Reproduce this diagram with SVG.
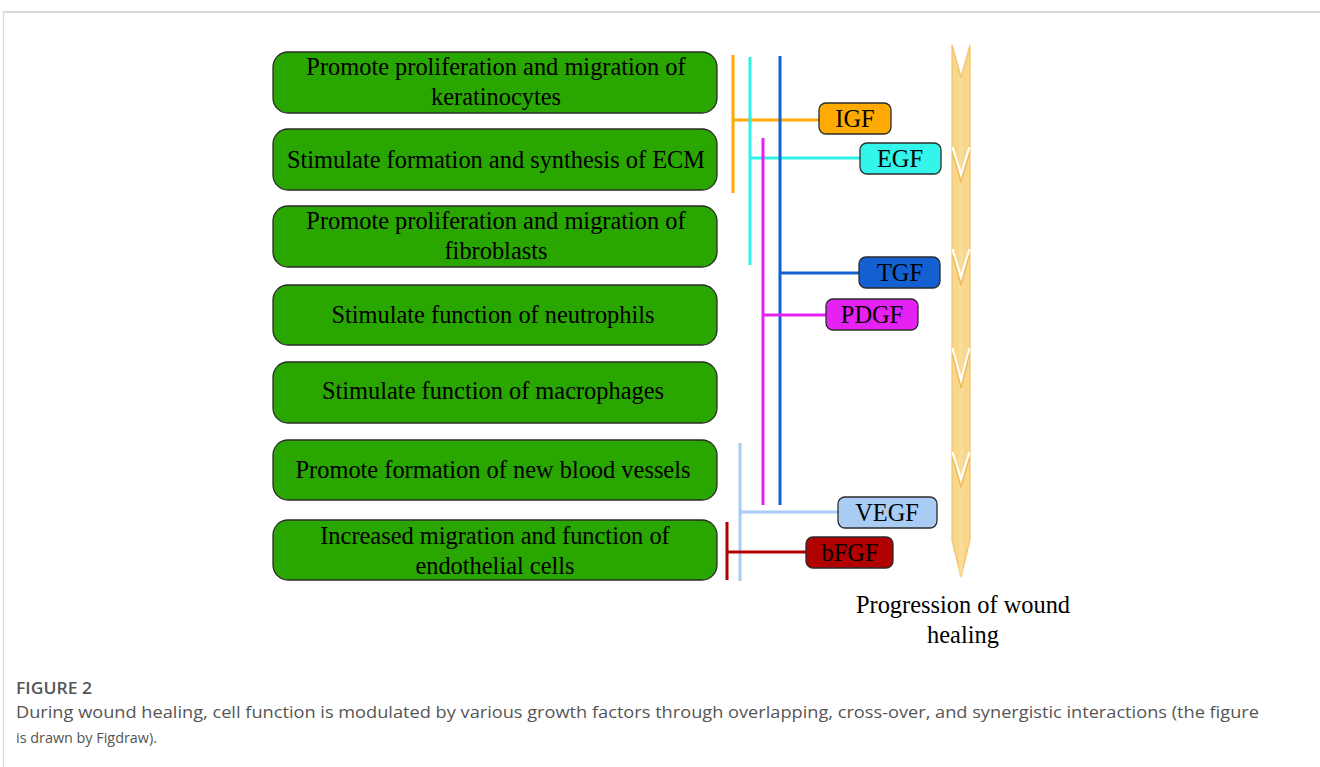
<svg xmlns="http://www.w3.org/2000/svg" width="1320" height="767" viewBox="0 0 1320 767">
<style>
.box{fill:#29a600;stroke:#2b2b2b;stroke-width:1.3}
.bt{font-family:"Liberation Serif",serif;font-size:24.4px;fill:#000;text-anchor:middle}
.gf{stroke:#2b2b2b;stroke-width:1.3}
.gt{font-family:"Liberation Serif",serif;font-size:24.4px;fill:#000;text-anchor:middle}
.ln{stroke-width:3;fill:none}
.cap{font-family:"Open Sans",sans-serif;fill:#555}
</style>
<rect width="1320" height="767" fill="#fff"/>
<line x1="3" y1="12" x2="1320" y2="12" stroke="#d9d9d9" stroke-width="2"/>
<line x1="3.5" y1="12" x2="3.5" y2="767" stroke="#d9d9d9" stroke-width="1.2"/>

<g id="n1"><rect class="box" x="273" y="52" width="444" height="61" rx="15"/><text class="bt" x="496" y="75">Promote proliferation and migration of</text><text class="bt" x="496" y="105">keratinocytes</text></g>
<g id="n2"><rect class="box" x="273" y="129" width="444" height="61" rx="15"/><text class="bt" x="496" y="168">Stimulate formation and synthesis of ECM</text></g>
<g id="n3"><rect class="box" x="273" y="206" width="444" height="61" rx="15"/><text class="bt" x="496" y="229">Promote proliferation and migration of</text><text class="bt" x="496" y="259">fibroblasts</text></g>
<g id="n4"><rect class="box" x="273" y="285" width="444" height="60" rx="15"/><text class="bt" x="493" y="323">Stimulate function of neutrophils</text></g>
<g id="n5"><rect class="box" x="273" y="362" width="444" height="61" rx="15"/><text class="bt" x="493" y="399">Stimulate function of macrophages</text></g>
<g id="n6"><rect class="box" x="273" y="440" width="444" height="60" rx="15"/><text class="bt" x="493" y="478">Promote formation of new blood vessels</text></g>
<g id="n7"><rect class="box" x="273" y="520" width="444" height="60" rx="15"/><text class="bt" x="495" y="544">Increased migration and function of</text><text class="bt" x="495" y="574">endothelial cells</text></g>

<g id="connectors">
<path class="ln" stroke="#ffaa00" d="M733 55V193M733 120H819"/>
<path class="ln" stroke="#2ef2e6" d="M750 57V265M750 158H860"/>
<path class="ln" stroke="#1560d0" d="M780 56V505M780 273H859"/>
<path class="ln" stroke="#e622f2" d="M763 138V505M763 315H826"/>
<path class="ln" stroke="#a9ccf5" d="M740 443V581M740 512H838"/>
<path class="ln" stroke="#b00000" d="M727 522V580M727 552H806"/>
</g>

<g id="IGF"><rect class="gf" x="819" y="103" width="72" height="31" rx="7" fill="#ffaa00"/><text class="gt" x="855" y="127">IGF</text></g>
<g id="EGF"><rect class="gf" x="860" y="143" width="81" height="31" rx="7" fill="#33f5e9"/><text class="gt" x="900" y="167">EGF</text></g>
<g id="TGF"><rect class="gf" x="859" y="257" width="81" height="31" rx="7" fill="#1560d0"/><text class="gt" x="900" y="281">TGF</text></g>
<g id="PDGF"><rect class="gf" x="826" y="299" width="92" height="31" rx="7" fill="#e622f2"/><text class="gt" x="872" y="323">PDGF</text></g>
<g id="VEGF"><rect class="gf" x="838" y="497" width="99" height="31" rx="7" fill="#a9ccf5"/><text class="gt" x="887" y="521">VEGF</text></g>
<g id="bFGF"><rect class="gf" x="806" y="537" width="87" height="31" rx="7" fill="#b00000"/><text class="gt" x="850" y="561">bFGF</text></g>

<g id="progression">
<polygon points="952,45 961,77 970,45 970,540 961,577 952,540" fill="#f8d68a" stroke="#f3c26a" stroke-width="1.2"/>
<line x1="961" y1="78" x2="961" y2="576" stroke="#fbe0a2" stroke-width="4" opacity="0.6"/>
<g fill="none" stroke-width="2.2" stroke-linejoin="miter">
<polyline points="952.5,147 961,174 969.5,147" stroke="#fff"/>
<polyline points="952.5,153 961,182 969.5,153" stroke="#efb95a" stroke-width="1.2"/>
<polyline points="952.5,249 961,277 969.5,249" stroke="#fff"/>
<polyline points="952.5,255 961,285 969.5,255" stroke="#efb95a" stroke-width="1.2"/>
<polyline points="952.5,348 961,380 969.5,348" stroke="#fff"/>
<polyline points="952.5,354 961,388 969.5,354" stroke="#efb95a" stroke-width="1.2"/>
<polyline points="952.5,452 961,479 969.5,452" stroke="#fff"/>
<polyline points="952.5,458 961,487 969.5,458" stroke="#efb95a" stroke-width="1.2"/>
</g>
<text class="gt" x="963" y="613">Progression of wound</text>
<text class="gt" x="963" y="643">healing</text>
</g>

<text class="cap" x="16" y="694" font-size="16.5" font-weight="600" textLength="76" lengthAdjust="spacingAndGlyphs">FIGURE 2</text>
<text class="cap" x="16" y="718" font-size="16" textLength="1243" lengthAdjust="spacingAndGlyphs">During wound healing, cell function is modulated by various growth factors through overlapping, cross-over, and synergistic interactions (the figure</text>
<text class="cap" x="16" y="743" font-size="15" textLength="141" lengthAdjust="spacingAndGlyphs">is drawn by Figdraw).</text>
</svg>
